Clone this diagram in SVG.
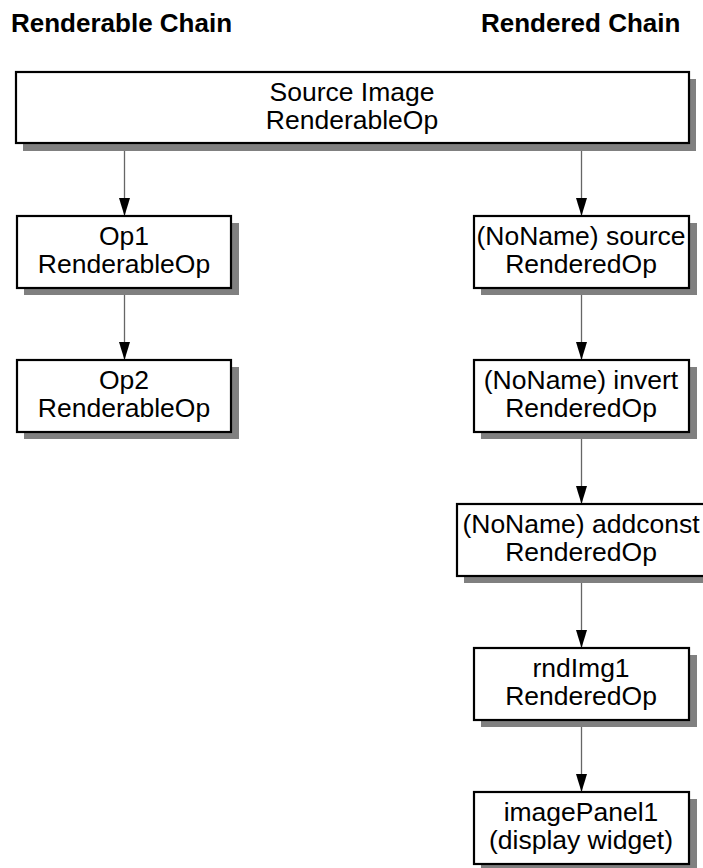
<svg xmlns="http://www.w3.org/2000/svg" width="703" height="868" viewBox="0 0 703 868">
  <style>
    .head { font-family: "Liberation Sans", Arial, sans-serif; font-size: 26px; font-weight: bold; fill: #000; }
    .lbl { font-family: "Liberation Sans", Arial, sans-serif; font-size: 26.5px; fill: #000; text-anchor: middle; }
    .box { fill: #fff; stroke: #000; stroke-width: 2.2; }
    .shadow { fill: #808080; }
    .edge { stroke: #666; stroke-width: 1.3; fill: none; marker-end: url(#arrow); }
  </style>
  <defs>
    <marker id="arrow" markerUnits="userSpaceOnUse" viewBox="0 0 18 11" refX="18" refY="5.5" markerWidth="18" markerHeight="11" orient="auto">
      <path d="M0,0 L18,5.5 L0,11 Z" fill="#000"/>
    </marker>
  </defs>
  <rect width="703" height="868" fill="#fff"/>

  <!-- column headings -->
  <text class="head" x="11" y="32">Renderable Chain</text>
  <text class="head" x="481" y="32">Rendered Chain</text>

  <!-- connectors -->
  <g id="connectors">
    <line class="edge" x1="124.5" y1="143" x2="124.5" y2="216" stroke="#000"/>
    <line class="edge" x1="124.5" y1="288" x2="124.5" y2="360"/>
    <line class="edge" x1="581.5" y1="143" x2="581.5" y2="216"/>
    <line class="edge" x1="581.5" y1="288" x2="581.5" y2="360"/>
    <line class="edge" x1="581.5" y1="432" x2="581.5" y2="504"/>
    <line class="edge" x1="581.5" y1="576" x2="581.5" y2="648"/>
    <line class="edge" x1="581.5" y1="720" x2="581.5" y2="792"/>
  </g>

  <!-- source image -->
  <g id="source-image">
    <rect class="shadow" x="23" y="79" width="673" height="72"/>
    <rect class="box" x="16" y="72" width="673" height="71"/>
    <text class="lbl" x="352" y="101">Source Image</text>
    <text class="lbl" x="352" y="129">RenderableOp</text>
  </g>

  <!-- renderable chain -->
  <g id="op1">
    <rect class="shadow" x="24" y="223" width="215" height="72"/>
    <rect class="box" x="17" y="216" width="214" height="72"/>
    <text class="lbl" x="124" y="245">Op1</text>
    <text class="lbl" x="124" y="273">RenderableOp</text>
  </g>
  <g id="op2">
    <rect class="shadow" x="24" y="367" width="215" height="72"/>
    <rect class="box" x="17" y="360" width="214" height="72"/>
    <text class="lbl" x="124" y="389">Op2</text>
    <text class="lbl" x="124" y="417">RenderableOp</text>
  </g>

  <!-- rendered chain -->
  <g id="rendered-source">
    <rect class="shadow" x="481" y="223" width="216" height="72"/>
    <rect class="box" x="474" y="216" width="215" height="72"/>
    <text class="lbl" x="581" y="245">(NoName) source</text>
    <text class="lbl" x="581" y="273">RenderedOp</text>
  </g>
  <g id="rendered-invert">
    <rect class="shadow" x="481" y="367" width="216" height="72"/>
    <rect class="box" x="474" y="360" width="215" height="72"/>
    <text class="lbl" x="581" y="389">(NoName) invert</text>
    <text class="lbl" x="581" y="417">RenderedOp</text>
  </g>
  <g id="rendered-addconst">
    <rect class="shadow" x="464" y="511" width="250" height="72"/>
    <rect class="box" x="457" y="504" width="249" height="72"/>
    <text class="lbl" x="581" y="533">(NoName) addconst</text>
    <text class="lbl" x="581" y="561">RenderedOp</text>
  </g>
  <g id="rndImg1">
    <rect class="shadow" x="481" y="655" width="216" height="72"/>
    <rect class="box" x="474" y="648" width="215" height="72"/>
    <text class="lbl" x="581" y="677">rndImg1</text>
    <text class="lbl" x="581" y="705">RenderedOp</text>
  </g>
  <g id="imagePanel1">
    <rect class="shadow" x="481" y="799" width="216" height="72"/>
    <rect class="box" x="474" y="792" width="215" height="72"/>
    <text class="lbl" x="581" y="821">imagePanel1</text>
    <text class="lbl" x="581" y="849">(display widget)</text>
  </g>
</svg>
